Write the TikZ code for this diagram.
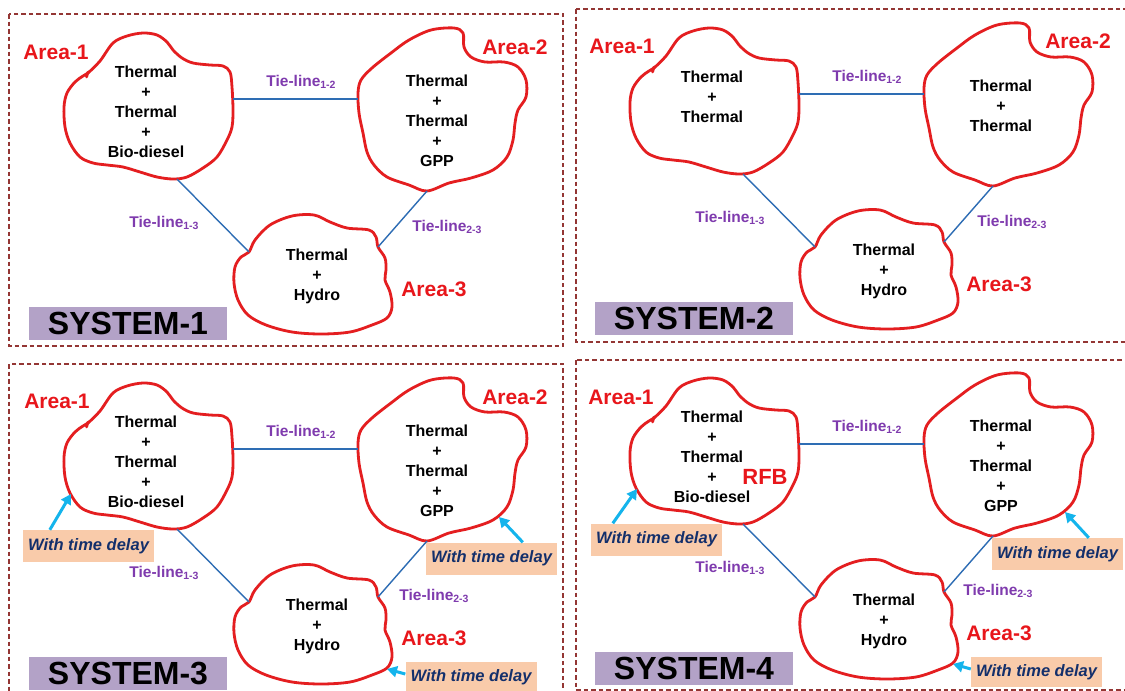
\documentclass[tikz,border=0pt]{standalone}
\usepackage{fontspec}
\setmainfont{Liberation Sans}
\usetikzlibrary{arrows.meta}
\definecolor{blobred}{HTML}{E41E20}
\definecolor{areared}{HTML}{E8161B}
\definecolor{tieblue}{HTML}{2E6DB4}
\definecolor{tiepurple}{HTML}{7F3BAE}
\definecolor{panelbrown}{HTML}{943634}
\definecolor{syspurple}{HTML}{B3A2C7}
\definecolor{peach}{HTML}{F9CBAA}
\definecolor{navyblue}{HTML}{132F6B}
\definecolor{cyanarrow}{HTML}{14B4EC}
\tikzset{
 panel/.style={draw=panelbrown, line width=2.2pt, dash pattern=on 4.5pt off 3pt},
 blob/.style={draw=blobred, line width=2.8pt, line join=round, line cap=round},
 tie/.style={draw=tieblue, line width=1.4pt},
 gen/.style={font=\fontsize{16}{20}\selectfont\bfseries, align=center, inner sep=0pt, text=black},
 area/.style={font=\fontsize{21}{21}\selectfont\bfseries, text=areared, inner sep=0pt},
 tielabel/.style={font=\fontsize{15.5}{16}\selectfont\bfseries, text=tiepurple, inner sep=0pt},
 sysbox/.style={fill=syspurple, minimum width=198pt, minimum height=33pt, inner sep=0pt, font=\fontsize{32}{32}\selectfont\bfseries},
 delaybox/.style={fill=peach, minimum width=131pt, minimum height=32pt, inner sep=0pt, font=\fontsize{16.5}{17}\selectfont\bfseries\itshape, text=navyblue},
 delayarrow/.style={draw=cyanarrow, line width=3pt, -{Triangle[length=10pt,width=11pt]}},
}
\newcommand{\sbs}[1]{\raisebox{-0.3ex}{\fontsize{10.5}{11}\selectfont #1}}
\newcommand{\blobset}[1]{%
 \draw[blob] plot[smooth cycle, tension=0.55] coordinates {(88,73) (100,61) (113,43) (127,36) (143,33) (157,35) (167,42) (173,50) (182,58) (193,63) (210,65) (223,66) (230,72) (232,87) (233,110) (232,127) (227,140) (217,157) (203,168) (187,177) (173,179) (157,177) (140,172) (123,167) (107,165) (93,163) (80,157) (70,143) (65,127) (64,107) (67,93) (75,82) (83,76)};
 \draw[blob] (88,72) -- (86.5,77);
 \draw[blob] plot[smooth cycle, tension=0.55] coordinates {(431,30) (454,28) (463,33) (464,47) (471,57) (485,62) (504,62) (518,67) (526,80) (526,97) (518,110) (515,123) (513,140) (507,157) (493,170) (471,178) (449,183) (427,191) (409,185) (387,177) (374,165) (367,152) (363,133) (359,113) (358,93) (361,80) (372,68) (391,53) (409,40)};
 \draw[blob] plot[smooth cycle, tension=0.55] coordinates {(249,252) (255,240) (270,225) (292,216) (314,215) (330,222) (347,228) (369,230) (376,237) (378,247) (385,258) (386,270) (385,280) (390,292) (392,307) (387,318) (372,325) (350,332) (321,334) (292,332) (266,325) (248,315) (238,300) (234,283) (235,267) (241,257)};
 \coordinate (#1-t12a) at (233,99);
 \coordinate (#1-t12b) at (358,99);
 \coordinate (#1-t13a) at (177,179);
 \coordinate (#1-t13b) at (249,252);
 \coordinate (#1-t23a) at (427,191);
 \coordinate (#1-t23b) at (378,247);
 \coordinate (#1-d1) at (71,144);
 \coordinate (#1-d2) at (499,167);
 \coordinate (#1-d3) at (387,319);
 \draw[tie] (#1-t12a) -- (#1-t12b);
 \draw[tie] (#1-t13a) -- (#1-t13b);
 \draw[tie] (#1-t23a) -- (#1-t23b);
}
\begin{document}
\begin{tikzpicture}[x=1pt,y=-1pt]
\useasboundingbox (0,0) rectangle (1125,691);
\clip (0,0) rectangle (1125,691);
\fill[white] (0,0) rectangle (1125,691);
% panels
\draw[panel] (9,14) rectangle (563,346);
\draw[panel] (576,9) rectangle (1130,342);
\draw[panel] (9,364) rectangle (563,695);
\draw[panel] (576,360) rectangle (1130,690);
% blobs and tie-lines
\blobset{p1}
\begin{scope}[shift={(566,-5)}]\blobset{p2}\end{scope}
\begin{scope}[shift={(0,350)}]\blobset{p3}\end{scope}
\begin{scope}[shift={(566,345)}]\blobset{p4}\end{scope}
% ---------- SYSTEM-1
\node[gen] (p1-g1) at (146,112) {Thermal\\+\\Thermal\\+\\Bio-diesel};
\node[gen] (p1-g2) at (437,121) {Thermal\\+\\Thermal\\+\\GPP};
\node[gen] (p1-g3) at (317,276) {Thermal\\+\\Hydro};
\node[area] (p1-a1) at (56,52) {Area-1};
\node[area] (p1-a2) at (515,47) {Area-2};
\node[area] (p1-a3) at (434,289) {Area-3};
\node[tielabel] (p1-l12) at (301,82) {Tie-line\sbs{1-2}};
\node[tielabel] (p1-l13) at (164,223) {Tie-line\sbs{1-3}};
\node[tielabel] (p1-l23) at (447,227) {Tie-line\sbs{2-3}};
\node[sysbox] (p1-sys) at (128,323.5) {SYSTEM-1};
% ---------- SYSTEM-2
\node[gen] (p2-g1) at (712,97) {Thermal\\+\\Thermal};
\node[gen] (p2-g2) at (1001,106) {Thermal\\+\\Thermal};
\node[gen] (p2-g3) at (884,271) {Thermal\\+\\Hydro};
\node[area] (p2-a1) at (622,46) {Area-1};
\node[area] (p2-a2) at (1078,41) {Area-2};
\node[area] (p2-a3) at (999,284) {Area-3};
\node[tielabel] (p2-l12) at (867,77) {Tie-line\sbs{1-2}};
\node[tielabel] (p2-l13) at (730,218) {Tie-line\sbs{1-3}};
\node[tielabel] (p2-l23) at (1012,222) {Tie-line\sbs{2-3}};
\node[sysbox] (p2-sys) at (694,318) {SYSTEM-2};
% ---------- SYSTEM-3
\node[gen] (p3-g1) at (146,462) {Thermal\\+\\Thermal\\+\\Bio-diesel};
\node[gen] (p3-g2) at (437,471) {Thermal\\+\\Thermal\\+\\GPP};
\node[gen] (p3-g3) at (317,626) {Thermal\\+\\Hydro};
\node[area] (p3-a1) at (57,401) {Area-1};
\node[area] (p3-a2) at (515,397) {Area-2};
\node[area] (p3-a3) at (434,638) {Area-3};
\node[tielabel] (p3-l12) at (301,432) {Tie-line\sbs{1-2}};
\node[tielabel] (p3-l13) at (164,573) {Tie-line\sbs{1-3}};
\node[tielabel] (p3-l23) at (434,596) {Tie-line\sbs{2-3}};
\node[sysbox] (p3-sys) at (128,673) {SYSTEM-3};
\node[delaybox] (p3-dl1) at (88.5,546) {With time delay};
\node[delaybox] (p3-dl2) at (491.5,558.5) {With time delay};
\node[delaybox, minimum height=30pt] (p3-dl3) at (471,677) {With time delay};
\draw[delayarrow] ([xshift=27pt]p3-dl1.north west) -- (p3-d1);
\draw[delayarrow] ([xshift=97pt]p3-dl2.north west) -- (p3-d2);
\draw[delayarrow] ([yshift=3pt]p3-dl3.west) -- (p3-d3);
% ---------- SYSTEM-4
\node[gen] (p4-g1) at (712,457) {Thermal\\+\\Thermal\\+\\Bio-diesel};
\node[gen] (p4-g2) at (1001,466) {Thermal\\+\\Thermal\\+\\GPP};
\node[gen] (p4-g3) at (884,621) {Thermal\\+\\Hydro};
\node[area] (p4-a1) at (621,397) {Area-1};
\node[area] (p4-a3) at (999,633) {Area-3};
\node[font=\fontsize{22}{22}\selectfont\bfseries, text=areared, inner sep=0pt] (p4-rfb) at (765,477) {RFB};
\node[tielabel] (p4-l12) at (867,427) {Tie-line\sbs{1-2}};
\node[tielabel] (p4-l13) at (730,568) {Tie-line\sbs{1-3}};
\node[tielabel] (p4-l23) at (998,591) {Tie-line\sbs{2-3}};
\node[sysbox] (p4-sys) at (694,668) {SYSTEM-4};
\node[delaybox] (p4-dl1) at (656.5,539.5) {With time delay};
\node[delaybox] (p4-dl2) at (1057.5,554) {With time delay};
\node[delaybox, minimum height=30pt] (p4-dl3) at (1036.5,672) {With time delay};
\draw[delayarrow] ([xshift=22pt]p4-dl1.north west) -- (p4-d1);
\draw[delayarrow] ([xshift=97pt]p4-dl2.north west) -- (p4-d2);
\draw[delayarrow] ([yshift=3pt]p4-dl3.west) -- (p4-d3);
\end{tikzpicture}
\end{document}
